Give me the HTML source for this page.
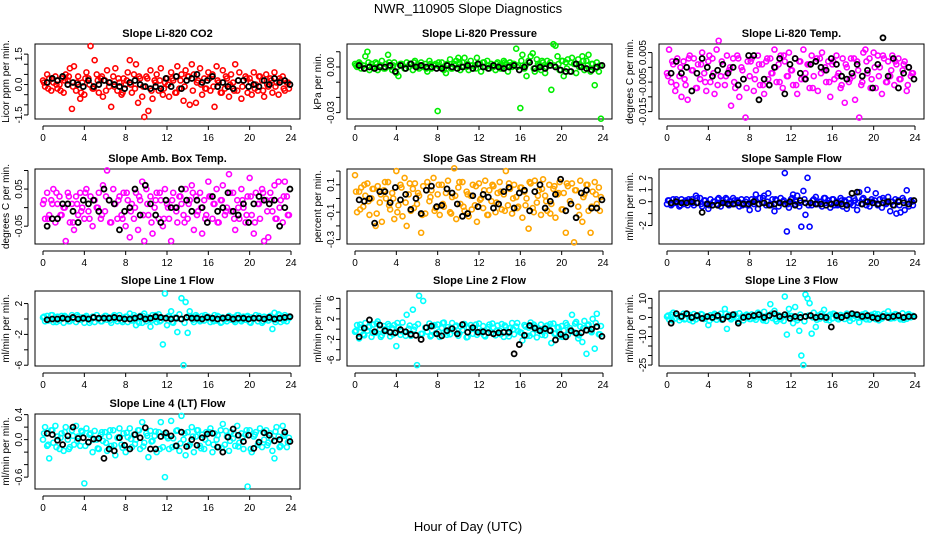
<!DOCTYPE html>
<html><head><meta charset="utf-8"><style>
html,body{margin:0;padding:0;background:#fff}
svg{display:block;font-family:"Liberation Sans",Arial,sans-serif}
</style></head><body>
<svg id="chart" width="936" height="540" viewBox="0 0 936 540" xmlns="http://www.w3.org/2000/svg">
<rect width="936" height="540" fill="#fff"/>
<text x="468" y="13" text-anchor="middle" font-size="13">NWR_110905  Slope Diagnostics</text>
<text x="468" y="531" text-anchor="middle" font-size="13">Hour of Day (UTC)</text>
</svg>
<script>
const colorHours=[0,0.2,0.4,0.6,0.8,1,1.2,1.4,1.6,1.8,2,2.2,2.4,2.6,2.8,3,3.2,3.4,3.6,3.8,4,4.2,4.4,4.6,4.8,5,5.2,5.4,5.6,5.8,6,6.2,6.4,6.6,6.8,7,7.2,7.4,7.6,7.8,8,8.2,8.4,8.6,8.8,9,9.2,9.4,9.6,9.8,10,10.2,10.4,10.6,10.8,11,11.2,11.4,11.6,11.8,12,12.2,12.4,12.6,12.8,13,13.2,13.4,13.6,13.8,14,14.2,14.4,14.6,14.8,15,15.2,15.4,15.6,15.8,16,16.2,16.4,16.6,16.8,17,17.2,17.4,17.6,17.8,18,18.2,18.4,18.6,18.8,19,19.2,19.4,19.6,19.8,20,20.2,20.4,20.6,20.8,21,21.2,21.4,21.6,21.8,22,22.2,22.4,22.6,22.8,23,23.2,23.4,23.6,23.8];
const coreHours=[0.1,0.5,0.9,1.3,1.7,2.1,2.5,2.9,3.3,3.7,4.1,4.5,4.9,5.3,5.7,6.1,6.5,6.9,7.3,7.7,8.1,8.5,8.9,9.3,9.7,10.1,10.5,10.9,11.3,11.7,12.1,12.5,12.9,13.3,13.7,14.1,14.5,14.9,15.3,15.7,16.1,16.5,16.9,17.3,17.7,18.1,18.5,18.9,19.3,19.7,20.1,20.5,20.9,21.3,21.7,22.1,22.5,22.9,23.3,23.7];
const blackHours=[0.4,0.9,1.4,1.9,2.4,2.9,3.4,3.9,4.4,4.9,5.4,5.9,6.4,6.9,7.4,7.9,8.4,8.9,9.4,9.9,10.4,10.9,11.4,11.9,12.4,12.9,13.4,13.9,14.4,14.9,15.4,15.9,16.4,16.9,17.4,17.9,18.4,18.9,19.4,19.9,20.4,20.9,21.4,21.9,22.4,22.9,23.4,23.9];
const xTicks=[0,4,8,12,16,20,24];

const co2Vals=[0.2,-0.1,0.5,0.3,-0.3,0.1,0.4,-0.2,0.0,0.3,-0.4,0.5,0.2,0.8,-1.2,0.9,-0.3,0.4,-0.7,0.1,-0.5,0.6,0.3,1.9,-0.2,1.2,0.5,-0.4,0.3,-0.6,0.2,0.7,-0.1,-1.1,0.4,0.8,-0.3,0.1,-0.5,0.3,0.0,0.6,1.2,-0.4,0.5,1.0,-0.9,0.3,-0.6,-1.6,0.4,-1.3,0.7,-0.7,0.2,0.5,-0.3,0.8,-0.5,0.1,0.3,-0.6,0.6,0.2,-0.4,0.9,-0.2,0.5,-0.8,0.7,0.4,-1.0,1.0,0.5,-0.9,0.2,0.8,-0.5,0.3,-0.2,0.6,-0.3,0.5,-1.1,0.9,0.1,-0.4,0.7,-0.2,0.3,-0.6,0.5,0.1,1.0,-0.3,0.6,-0.7,0.2,0.4,-0.4,0.3,-0.5,0.6,0.0,-0.3,0.4,0.2,-0.6,0.5,-0.1,0.3,-0.4,0.6,0.1,-0.5,0.2,0.4,-0.3,0.1,-0.2];
const co2Core=[0.1,-0.2,0.3,0.0,-0.3,0.2,0.4,-0.1,0.1,-0.4,0.3,0.0,-0.2,0.2,0.4,-0.3,0.1,-0.1,0.3,-0.4,0.2,0.0,-0.2,0.4,-0.1,0.3,-0.3,0.1,0.2,-0.2,0.0,0.3,-0.4,0.2,-0.1,0.4,-0.3,0.1,0.0,-0.2,0.3,-0.1,0.2,-0.4,0.4,0.0,-0.3,0.2,-0.1,0.3,0.1,-0.2,0.4,-0.3,0.0,0.2,-0.1,0.3,-0.2,0.1];
const co2Black=[0.1,0.3,0.2,0.4,0.0,0.1,0.0,-0.1,0.2,-0.1,0.0,0.2,0.1,0.0,-0.1,-0.2,0.1,0.2,0.0,-0.1,-0.2,-0.1,-0.2,0.3,-0.1,0.4,-0.2,0.2,0.3,0.5,0.1,0.2,0.4,-0.1,0.1,-0.1,-0.2,0.2,0.2,-0.1,0.0,-0.1,0.2,0.0,0.3,0.1,0.2,0.0];
const presVals=[0.002,0.000,0.003,-0.001,0.001,0.007,0.010,-0.002,0.002,0.000,0.003,-0.002,0.001,0.004,-0.001,0.002,0.008,0.000,-0.002,0.003,-0.004,-0.006,0.002,0.001,-0.001,0.003,0.000,0.002,-0.002,0.004,0.001,-0.001,0.003,0.000,0.002,-0.003,0.004,-0.001,0.001,0.002,-0.029,0.000,0.003,-0.002,-0.004,0.001,0.005,-0.001,0.002,0.004,0.006,-0.002,0.003,0.006,0.000,-0.002,0.004,-0.001,0.001,0.006,0.002,-0.003,0.003,0.000,0.004,-0.001,0.002,0.000,-0.002,0.003,0.001,-0.001,0.004,0.002,-0.003,0.003,0.000,0.002,0.012,0.001,-0.027,0.008,-0.001,-0.006,0.004,0.007,0.009,-0.003,0.005,0.001,-0.002,0.003,-0.004,0.004,0.001,-0.015,0.015,0.014,0.007,-0.002,0.004,-0.006,0.003,0.005,-0.003,0.006,0.002,-0.004,0.005,0.001,0.007,-0.002,0.004,0.008,-0.003,0.002,-0.012,0.003,-0.003,-0.034];
const presCore=[0.001,0.002,-0.001,0.003,0.000,0.002,0.001,-0.001,0.003,0.001,0.000,0.002,-0.001,0.002,0.003,0.000,0.001,-0.001,0.002,0.001,0.003,0.000,0.002,-0.001,0.001,0.003,0.000,0.002,0.001,-0.001,0.002,0.003,0.001,0.000,0.002,-0.001,0.003,0.001,0.002,0.000,0.004,0.001,0.003,-0.001,0.002,0.004,0.000,0.003,0.001,0.002,0.004,-0.001,0.003,0.002,0.000,0.004,0.001,0.002,-0.001,0.001];
const presBlack=[0.001,-0.001,0.000,-0.001,0.000,0.000,0.001,-0.003,0.001,-0.001,0.002,0.000,0.001,0.000,0.000,-0.001,-0.001,0.001,0.000,-0.001,0.000,0.001,-0.001,0.002,0.000,-0.001,0.001,0.000,-0.001,0.000,0.001,-0.002,0.000,0.003,-0.001,0.000,-0.001,0.001,0.000,-0.002,-0.003,-0.003,0.002,0.000,-0.001,-0.002,0.000,0.001];
const tempVals=[-0.002,0.006,-0.005,0.001,-0.008,0.003,-0.003,-0.010,0.002,-0.006,-0.011,0.004,-0.001,0.003,-0.007,0.001,-0.004,0.005,-0.002,-0.008,0.002,-0.005,0.003,-0.009,0.006,0.009,-0.003,0.001,-0.006,0.004,-0.001,-0.013,0.003,-0.007,0.004,-0.010,0.000,-0.004,-0.017,0.002,-0.003,0.003,-0.008,-0.001,0.004,-0.006,0.001,-0.009,0.002,-0.004,0.003,-0.002,0.006,-0.005,0.001,0.004,-0.007,0.002,-0.003,0.005,-0.001,-0.006,0.003,-0.009,0.002,-0.004,0.006,-0.002,0.001,-0.007,0.004,-0.003,0.002,-0.008,0.003,0.005,-0.001,-0.005,0.002,-0.010,0.001,-0.004,0.004,-0.002,-0.007,0.003,-0.012,0.000,-0.005,0.003,-0.003,-0.011,0.002,-0.017,-0.006,0.005,0.006,-0.002,0.003,-0.004,0.005,-0.007,0.004,0.000,-0.009,0.003,-0.005,0.002,-0.003,0.004,-0.006,0.001,0.003,-0.004,-0.001,0.002,-0.008,0.000,-0.003,-0.002];
const tempCore=[-0.003,0.002,-0.006,0.000,-0.004,0.003,-0.001,-0.007,0.001,-0.005,0.004,-0.002,-0.006,0.002,-0.003,0.000,-0.005,0.003,-0.001,-0.007,0.002,-0.004,0.001,-0.006,0.003,-0.002,0.000,-0.005,0.004,-0.003,-0.001,-0.006,0.002,-0.004,0.001,-0.007,0.003,-0.002,0.000,-0.005,0.002,-0.003,-0.006,0.001,-0.004,0.003,-0.001,-0.005,0.002,-0.007,0.000,-0.003,0.004,-0.005,-0.001,0.002,-0.004,0.001,-0.006,-0.002];
const tempBlack=[-0.002,0.002,-0.002,0.000,-0.008,-0.002,0.003,0.000,-0.003,-0.001,0.001,-0.002,0.000,-0.006,-0.004,0.004,0.004,-0.011,-0.004,-0.006,0.000,0.003,-0.009,0.001,0.003,-0.002,-0.004,0.001,0.002,0.000,-0.001,0.003,0.001,-0.003,-0.004,-0.002,0.001,-0.003,-0.001,-0.007,0.001,0.010,-0.003,0.003,-0.007,-0.002,0.000,-0.004];
const ambVals=[0.01,-0.03,0.04,-0.02,0.02,0.05,-0.04,0.01,0.03,-0.02,0.00,-0.09,0.04,-0.04,0.01,-0.06,0.03,-0.02,0.04,0.00,-0.03,0.05,-0.01,0.03,-0.05,0.02,0.00,0.04,-0.03,0.06,-0.01,0.10,0.02,-0.04,0.05,0.01,-0.03,0.03,-0.02,0.04,-0.05,0.02,-0.08,0.01,-0.03,0.04,-0.06,0.02,0.07,-0.09,0.05,-0.02,0.03,-0.07,0.00,0.04,-0.03,0.02,-0.05,0.05,0.01,-0.03,-0.09,0.04,0.00,-0.04,0.03,0.01,-0.02,0.05,-0.03,0.02,0.06,-0.06,0.03,-0.01,0.04,-0.07,0.02,-0.02,0.07,0.03,-0.03,0.01,0.05,-0.04,0.02,0.06,-0.02,0.00,0.09,-0.01,0.04,-0.06,0.02,-0.03,0.05,0.00,-0.04,0.03,0.08,-0.02,-0.07,0.04,0.01,-0.03,0.05,-0.09,0.02,-0.08,0.04,-0.01,0.06,-0.03,0.07,0.02,-0.04,0.07,0.03,-0.02];
const ambCore=[0.02,-0.03,0.01,0.04,-0.02,0.00,0.03,-0.04,0.01,-0.01,0.04,-0.03,0.02,0.00,-0.02,0.03,-0.04,0.01,0.02,-0.03,0.04,-0.01,0.00,0.03,-0.02,0.01,-0.04,0.02,0.04,-0.03,0.00,0.02,-0.01,0.03,-0.04,0.01,0.04,-0.02,0.00,-0.03,0.03,0.01,-0.04,0.02,-0.01,0.04,-0.03,0.00,0.02,-0.02,0.03,-0.04,0.01,0.04,-0.01,0.02,-0.03,0.00,0.03,-0.02];
const ambBlack=[-0.05,-0.03,-0.03,0.01,0.01,-0.01,-0.04,0.02,0.01,0.02,-0.01,0.05,0.02,0.01,-0.06,-0.01,0.00,0.05,-0.02,0.06,0.01,-0.02,-0.04,0.02,0.00,0.00,0.05,0.02,-0.01,0.02,0.00,-0.04,0.03,-0.01,0.00,0.04,-0.01,-0.02,0.01,-0.04,0.01,0.03,0.02,0.01,0.02,-0.05,0.00,0.05];
const rhVals=[0.17,-0.10,0.05,0.08,-0.06,0.02,0.11,-0.12,0.00,0.07,-0.20,0.09,-0.03,-0.17,0.06,0.00,0.12,-0.08,0.04,-0.15,0.20,-0.05,0.10,-0.13,0.15,-0.20,0.03,-0.09,0.07,0.11,-0.04,0.02,-0.25,0.09,-0.11,0.12,-0.02,0.06,0.15,-0.07,0.03,-0.12,0.10,-0.06,0.04,0.13,-0.10,0.01,0.22,-0.15,0.08,-0.04,0.12,-0.09,0.05,-0.13,0.02,0.10,-0.05,-0.17,0.11,0.00,-0.07,0.13,-0.12,0.06,-0.02,0.09,-0.10,0.04,0.12,-0.08,0.03,0.20,-0.05,0.07,-0.11,0.10,0.01,-0.06,0.08,-0.14,0.05,0.00,-0.22,0.11,-0.07,0.13,-0.03,0.06,-0.12,0.14,0.02,-0.09,0.10,-0.04,0.07,-0.14,0.03,0.12,-0.08,0.04,-0.25,0.09,-0.02,0.11,-0.32,0.06,-0.06,0.13,-0.17,0.03,0.10,-0.09,-0.25,0.05,0.12,-0.04,0.08,0.01];
const rhCore=[0.05,-0.08,0.10,-0.02,0.07,-0.11,0.03,0.12,-0.05,0.00,-0.10,0.08,-0.03,0.11,-0.07,0.04,-0.12,0.06,0.01,-0.09,0.10,-0.04,0.07,-0.11,0.02,0.12,-0.06,0.03,-0.08,0.09,-0.01,0.06,-0.12,0.10,-0.03,0.05,-0.09,0.11,0.00,-0.07,0.08,-0.05,0.12,-0.10,0.02,0.07,-0.02,-0.11,0.09,0.04,-0.08,0.11,-0.04,0.06,-0.12,0.01,0.10,-0.06,0.03,-0.09];
const rhBlack=[-0.01,-0.02,0.00,-0.18,0.05,0.05,-0.03,0.08,-0.01,0.03,-0.08,0.00,-0.11,0.06,0.09,-0.06,-0.05,0.07,0.04,-0.04,-0.13,-0.11,0.02,-0.06,0.03,0.01,-0.07,-0.04,0.05,0.08,-0.07,0.04,0.06,-0.09,0.05,0.10,-0.07,-0.02,0.03,0.14,-0.09,-0.04,-0.14,0.04,0.06,-0.07,-0.07,-0.01];
const sampleVals=[-0.2,0.1,-0.3,0.2,-0.1,0.0,-0.4,0.2,-0.2,0.1,-0.3,0.0,0.2,-0.3,0.5,-0.1,0.3,-0.4,0.1,-0.2,-0.6,0.2,-0.3,0.0,-0.2,0.3,-0.4,0.1,-0.1,0.2,-0.3,0.0,0.3,-0.2,0.1,-0.4,0.2,-0.1,0.0,-0.3,-0.7,0.2,-0.2,0.6,-0.6,0.3,-0.1,0.5,-0.3,0.7,-0.2,0.2,-0.8,0.1,-0.4,0.3,0.0,2.4,-2.5,-0.5,0.2,0.6,-0.2,0.5,-0.4,-2.1,0.9,-1.1,2.0,-2.1,-0.3,0.2,0.4,-0.2,0.0,-0.4,0.3,-0.1,0.1,-0.5,0.2,-0.3,0.0,-0.2,0.3,-0.4,0.1,-0.6,0.2,-0.1,-0.3,0.1,-0.7,0.8,-0.2,0.3,0.0,1.0,-0.4,0.2,-0.1,0.7,-0.3,0.2,-0.5,0.1,-0.2,0.4,-0.8,0.0,-0.3,-1.0,0.1,-0.9,0.3,-0.7,0.95,-0.4,0.1,-0.3];
const sampleCore=[0.1,-0.2,0.2,-0.3,0.0,0.2,-0.1,0.3,-0.2,0.1,-0.3,0.0,0.2,-0.1,0.3,-0.2,0.1,0.0,-0.3,0.2,-0.1,0.1,-0.2,0.3,0.0,-0.3,0.2,-0.1,0.1,-0.2,0.3,0.0,-0.1,0.2,-0.3,0.1,-0.2,0.0,0.3,-0.1,0.2,-0.3,0.1,0.0,-0.2,0.3,-0.1,0.2,-0.3,0.0,0.1,-0.2,0.3,-0.1,0.0,0.2,-0.3,0.1,-0.2,0.0];
const sampleBlack=[-0.1,0.0,-0.1,-0.1,0.0,-0.1,-0.9,-0.2,-0.3,-0.3,-0.1,-0.2,-0.2,-0.1,-0.2,-0.2,0.0,-0.2,-0.1,-0.3,-0.2,-0.1,-0.2,0.0,-0.3,0.1,-0.1,-0.1,-0.2,-0.2,-0.3,-0.2,-0.1,-0.2,-0.3,0.7,0.8,-0.2,0.0,-0.1,-0.2,-0.1,0.0,-0.3,0.0,-0.1,-0.2,0.1];
const line1Vals=[0.2,-0.3,0.4,-0.1,0.5,-0.4,0.1,0.3,-0.2,0.4,-0.5,0.2,0.0,-0.3,0.5,0.1,-0.4,0.3,-0.1,0.2,-0.5,0.4,0.0,-0.2,0.3,-0.4,0.5,0.1,-0.3,0.2,0.4,-0.1,0.2,-0.5,0.3,0.0,-0.3,0.5,-0.2,0.1,0.3,-0.4,0.7,-0.2,0.5,-0.8,0.1,0.4,-0.5,0.7,-0.3,0.2,-1.0,0.5,0.0,-0.4,0.6,-0.2,-3.3,3.3,-0.8,0.4,1.0,-0.5,0.2,-1.7,0.6,2.7,-6.0,2.2,-1.8,1.0,0.3,-0.4,0.5,0.0,-0.3,0.4,-0.2,0.2,0.3,-0.4,0.1,0.5,-0.2,0.3,-0.5,0.2,0.0,-0.3,0.4,-0.1,0.2,-0.4,0.5,0.0,-0.3,0.3,-0.1,0.4,-0.4,0.2,0.0,0.5,-0.3,0.1,-0.5,0.3,0.0,-0.2,0.4,-1.3,0.8,-0.1,0.6,-0.4,0.2,0.5,-0.3,0.1];
const line1Core=[0.3,-0.2,0.5,-0.4,0.1,0.4,-0.3,0.0,0.5,-0.1,0.2,-0.5,0.3,0.0,-0.3,0.4,-0.2,0.5,0.1,-0.4,0.3,-0.1,0.2,-0.5,0.4,0.0,-0.2,0.5,-0.3,0.1,0.3,-0.4,0.2,0.0,-0.5,0.4,-0.1,0.3,-0.2,0.5,0.1,-0.3,0.4,-0.4,0.0,0.2,-0.2,0.5,-0.1,0.3,-0.5,0.1,0.4,-0.3,0.2,0.0,-0.4,0.5,-0.2,0.3];
const line1Black=[-0.1,0.0,0.0,0.1,0.0,0.2,0.0,0.1,0.0,0.2,0.1,0.1,0.1,0.2,0.1,0.0,0.0,0.1,0.3,0.0,0.1,0.3,0.2,0.1,0.0,0.1,0.0,0.2,0.1,0.1,0.0,0.2,0.1,0.0,0.1,0.2,0.0,0.1,0.1,0.0,0.1,0.1,0.0,0.2,0.0,0.1,0.2,0.3];
const line2Vals=[-0.5,0.8,-1.8,0.3,-1.0,1.2,-0.3,0.5,-1.5,0.9,-0.7,1.5,0.0,-1.2,0.6,-0.4,1.0,-1.4,0.2,0.8,-3.3,0.4,-1.1,1.3,-0.6,2.8,0.1,-1.3,3.8,0.5,-7.0,6.5,-0.9,5.5,0.3,-0.5,1.1,-1.2,0.6,-0.8,0.9,-1.5,0.2,1.3,-0.6,0.4,-1.0,1.2,-0.3,0.7,-1.3,0.5,-0.2,1.0,-1.6,0.3,0.8,-0.9,0.2,-1.1,1.1,-0.4,0.6,-1.4,0.0,0.9,-0.7,0.3,-1.2,0.7,-0.3,1.0,-1.5,0.4,-0.8,0.2,1.2,-1.0,0.5,-0.4,-0.6,-2.2,0.8,-1.3,0.3,1.3,-0.9,0.5,-1.6,0.1,0.9,-0.5,-1.2,0.7,-0.2,-2.7,1.1,-0.8,0.4,-1.4,0.6,-0.3,1.2,-1.1,0.2,2.8,-0.6,1.4,-1.8,0.5,-2.5,1.6,-4.8,0.9,-0.4,2.0,-3.8,3.0,-1.0,0.6];
const line2Core=[-0.3,0.9,-1.2,0.4,-0.7,1.1,-1.5,0.0,0.6,-1.0,1.2,-0.4,-1.3,0.7,-0.1,1.0,-0.9,0.3,-1.4,0.8,-0.5,1.2,-1.1,0.2,0.5,-0.8,1.0,-1.5,0.1,0.9,-0.6,-1.2,0.4,1.1,-0.3,-1.0,0.7,-1.4,0.0,1.2,-0.7,0.5,-1.3,0.9,-0.2,-1.1,0.6,1.0,-0.9,0.3,-1.5,0.8,-0.4,1.1,-1.2,0.2,0.7,-0.6,1.2,-1.0];
const line2Black=[-1.5,0.2,1.8,-0.5,0.8,-0.3,-0.6,-0.7,-0.1,-0.5,-1.0,-1.2,-2.0,0.3,0.6,-0.9,-1.3,-0.3,0.1,-0.9,0.9,-0.6,0.3,-0.6,-0.5,-0.7,-0.9,-0.7,-0.6,-0.6,-4.8,-3.0,-1.2,0.7,0.2,-0.3,0.1,-0.3,-2.1,-1.0,-1.5,-0.3,-0.8,-0.7,-0.2,0.0,0.5,-1.4];
const line3Vals=[0.5,-1.0,1.5,2.5,-0.5,1.0,-1.5,0.8,2.0,-0.7,1.2,-1.3,0.3,1.8,-1.0,0.6,-0.2,1.5,-0.8,0.4,-4.0,1.2,-0.5,1.9,-1.2,0.7,2.0,-0.4,4.5,-6.0,1.3,-1.0,0.3,1.7,-0.6,2.2,0.0,-1.5,1.0,0.5,-0.8,1.6,0.2,-1.2,2.5,0.4,-0.5,3.0,-1.8,0.9,7.0,-0.3,3.5,-2.0,1.2,-0.9,0.5,11.0,-9.0,4.5,0.8,-3.0,5.5,-1.5,-7.0,-20.0,-25.0,12.0,10.0,7.5,-8.5,2.5,-5.0,1.0,-0.6,2.0,4.0,-1.2,0.7,1.5,-0.5,1.8,0.2,-1.0,1.3,0.5,-0.8,2.0,0.0,1.2,-0.7,1.6,0.3,-2.5,1.0,-0.3,2.1,0.6,-1.1,1.4,0.2,-0.9,1.7,0.4,-0.6,1.9,0.8,3.2,-0.5,1.1,-0.3,1.5,0.6,-1.0,2.2,0.3,-0.7,1.8,0.1,0.9];
const line3Core=[1.0,-1.5,2.0,0.0,-1.0,1.5,-2.0,0.5,1.8,-0.5,-1.8,1.2,0.3,-1.2,2.0,-0.3,1.0,-2.0,0.8,1.5,-0.8,0.0,1.8,-1.5,0.5,2.0,-1.0,0.2,-1.8,1.2,0.7,-0.5,1.5,-2.0,1.0,0.0,-1.2,1.8,0.3,-1.5,2.0,-0.7,0.5,1.2,-1.8,1.0,-0.2,1.5,-1.0,0.8,2.0,-1.5,0.3,1.0,-0.5,1.8,0.0,-1.2,1.5,0.5];
const line3Black=[-3.0,2.0,0.5,2.0,0.0,1.0,-0.5,0.5,0.0,1.0,-1.0,0.5,1.5,-3.0,0.0,0.5,1.0,1.5,0.0,1.0,2.0,0.5,1.5,-0.5,0.5,0.0,0.5,1.0,0.0,0.5,0.0,-5.0,1.0,0.0,1.0,2.0,1.5,0.5,1.0,0.0,-0.5,0.5,0.0,0.5,1.0,0.0,0.5,0.5];
const line4Vals=[0.00,0.20,-0.10,-0.30,0.15,-0.05,0.22,0.05,-0.15,0.10,-0.18,0.20,0.00,-0.12,0.15,-0.08,0.22,0.05,-0.10,0.12,-0.70,0.18,-0.05,0.10,-0.20,0.14,0.00,-0.15,0.08,-0.02,0.12,-0.18,0.05,-0.10,0.15,-0.25,0.03,0.18,-0.08,0.10,-0.20,0.04,0.18,-0.12,0.08,0.00,0.15,-0.15,0.28,-0.05,0.10,-0.28,0.14,-0.02,0.06,-0.20,0.12,0.28,-0.12,-0.60,0.05,-0.15,0.30,0.02,-0.10,0.15,-0.18,0.38,0.00,-0.25,0.12,-0.08,0.20,-0.20,0.05,0.15,-0.10,0.08,-0.15,0.12,-0.05,0.18,-0.20,0.10,0.00,-0.12,0.15,0.25,-0.08,0.05,-0.18,0.12,0.02,-0.10,0.22,-0.05,0.10,-0.15,0.08,-0.75,0.15,-0.20,0.05,0.12,-0.08,0.18,-0.12,0.00,0.15,-0.05,0.10,-0.18,-0.30,0.20,0.05,-0.10,0.22,0.08,-0.12,0.03];
const line4Core=[0.10,-0.08,0.15,-0.12,0.03,0.12,-0.15,0.06,-0.02,0.14,-0.10,0.08,0.00,-0.14,0.12,-0.05,0.15,-0.09,0.04,-0.13,0.11,0.01,-0.07,0.15,-0.11,0.06,-0.03,0.13,-0.15,0.09,0.02,-0.12,0.14,-0.06,0.10,-0.10,0.05,0.15,-0.14,0.00,0.12,-0.08,0.07,-0.13,0.14,-0.02,0.09,-0.11,0.03,0.15,-0.15,0.08,-0.05,0.12,-0.09,0.01,0.13,-0.12,0.06,-0.04];
const line4Black=[0.10,0.08,-0.01,-0.08,0.06,0.20,0.02,0.03,-0.04,0.01,0.02,-0.30,-0.15,-0.18,0.03,-0.09,-0.15,0.08,0.03,0.19,-0.15,-0.15,0.05,0.11,0.06,-0.10,0.12,-0.11,0.00,-0.09,0.03,0.09,0.10,-0.12,-0.20,0.04,0.17,0.07,-0.03,0.07,-0.14,-0.04,0.11,0.07,-0.02,0.00,0.12,-0.03];

const co2Ticks=[-1.5,-1,-0.5,0,0.5,1,1.5], co2Labels=["-1.5","","","0.0","","","1.5"];
const presTicks=[-0.03,-0.02,-0.01,0,0.01], presLabels=["-0.03","","","0.00",""];
const tempTicks=[-0.015,-0.01,-0.005,0,0.005], tempLabels=["-0.015","","-0.005","","0.005"];
const ambTicks=[-0.05,0,0.05,0.1], ambLabels=["-0.05","","0.05",""];
const rhTicks=[-0.3,-0.2,-0.1,0,0.1,0.2], rhLabels=["-0.3","","-0.1","","0.1",""];
const sampleTicks=[-2,-1,0,1,2], sampleLabels=["-2","","0","1","2"];
const line1Ticks=[-6,-4,-2,0,2], line1Labels=["-6","","-2","","2"];
const line2Ticks=[-6,-4,-2,0,2,4,6], line2Labels=["-6","","-2","","2","","6"];
const line3Ticks=[-25,-20,-15,-10,-5,0,5,10], line3Labels=["-25","","","-10","","0","","10"];
const line4Ticks=[-0.6,-0.4,-0.2,0,0.2,0.4], line4Labels=["-0.6","","","0.0","","0.4"];

const svg=document.getElementById('chart');
const NS='http://www.w3.org/2000/svg';
function mk(tag,attrs,parent){const e=document.createElementNS(NS,tag);for(const k in attrs)e.setAttribute(k,attrs[k]);(parent||svg).appendChild(e);return e;}

const colLeft=[35,347,659], rowTop=[44,169,291,414], W=265, H=75;
const panels=[
 {id:'co2',title:'Slope Li-820 CO2',yl:'Licor ppm per min.',color:'#ff0000',lim:[-1.70,2.0],vals:co2Vals,core:co2Core,blk:co2Black,ticks:co2Ticks,labels:co2Labels,r:0,c:0},
 {id:'pressure',title:'Slope Li-820 Pressure',yl:'kPa per min.',color:'#00ee00',lim:[-0.0342,0.0151],vals:presVals,core:presCore,blk:presBlack,ticks:presTicks,labels:presLabels,r:0,c:1},
 {id:'temp',title:'Slope Li-820 Temp.',yl:'degrees C per min.',color:'#ff00ff',lim:[-0.0175,0.0079],vals:tempVals,core:tempCore,blk:tempBlack,ticks:tempTicks,labels:tempLabels,r:0,c:2},
 {id:'amb-box-temp',title:'Slope Amb. Box Temp.',yl:'degrees C per min.',color:'#ff00ff',lim:[-0.098,0.104],vals:ambVals,core:ambCore,blk:ambBlack,ticks:ambTicks,labels:ambLabels,r:1,c:0},
 {id:'gas-rh',title:'Slope Gas Stream RH',yl:'percent per min.',color:'#ffa500',lim:[-0.332,0.215],vals:rhVals,core:rhCore,blk:rhBlack,ticks:rhTicks,labels:rhLabels,r:1,c:1},
 {id:'sample-flow',title:'Slope Sample Flow',yl:'ml/min per min.',color:'#0000ff',lim:[-3.55,2.74],vals:sampleVals,core:sampleCore,blk:sampleBlack,ticks:sampleTicks,labels:sampleLabels,r:1,c:2},
 {id:'line1-flow',title:'Slope Line 1 Flow',yl:'ml/min per min.',color:'#00ffff',lim:[-6.1,3.63],vals:line1Vals,core:line1Core,blk:line1Black,ticks:line1Ticks,labels:line1Labels,r:2,c:0},
 {id:'line2-flow',title:'Slope Line 2 Flow',yl:'ml/min per min.',color:'#00ffff',lim:[-7.17,7.43],vals:line2Vals,core:line2Core,blk:line2Black,ticks:line2Ticks,labels:line2Labels,r:2,c:1},
 {id:'line3-flow',title:'Slope Line 3 Flow',yl:'ml/min per min.',color:'#00ffff',lim:[-25.5,13.9],vals:line3Vals,core:line3Core,blk:line3Black,ticks:line3Ticks,labels:line3Labels,r:2,c:2},
 {id:'line4-flow',title:'Slope Line 4 (LT) Flow',yl:'ml/min per min.',color:'#00ffff',lim:[-0.79,0.41],vals:line4Vals,core:line4Core,blk:line4Black,ticks:line4Ticks,labels:line4Labels,r:3,c:0}
];

panels.forEach(p=>{
  const L=colLeft[p.c], T=rowTop[p.r];
  const xs=h=>L+8+h*(248/24);
  const ys=v=>T+H-(v-p.lim[0])/(p.lim[1]-p.lim[0])*H;
  const g=mk('g',{});
  
  
  const t=mk('text',{x:L+W/2,y:T-7,'text-anchor':'middle','font-size':'11','font-weight':'bold'},g);
  t.textContent=p.title;
  
  
  const yl=mk('text',{transform:`translate(${L-26},${T+H/2}) rotate(-90)`,'text-anchor':'middle','font-size':'10'},g);
  yl.textContent=p.yl;
  
  
  const xa=mk('g',{},g);
  
  
  mk('line',{x1:xs(0),x2:xs(24),y1:T+H+7,y2:T+H+7,stroke:'#000','stroke-width':1},xa);
  xTicks.forEach(h=>{
    mk('line',{x1:xs(h),x2:xs(h),y1:T+H+7,y2:T+H+11,stroke:'#000','stroke-width':1},xa);
    const tl=mk('text',{x:xs(h),y:T+H+22,'text-anchor':'middle','font-size':'10'},xa);
    tl.textContent=h;
    
    
  });
  const ya=mk('g',{},g);
  
  
  const tmin=Math.min(...p.ticks), tmax=Math.max(...p.ticks);
  mk('line',{x1:L-7,x2:L-7,y1:ys(tmin),y2:ys(tmax),stroke:'#000','stroke-width':1},ya);
  p.ticks.forEach((v,i)=>{
    mk('line',{x1:L-11,x2:L-7,y1:ys(v),y2:ys(v),stroke:'#000','stroke-width':1},ya);
    if(p.labels[i]){
      const tl=mk('text',{transform:`translate(${L-13},${ys(v)}) rotate(-90)`,'text-anchor':'middle','font-size':'10'},ya);
      tl.textContent=p.labels[i];
      
      
    }
  });
  const frame=mk('rect',{x:L,y:T,width:W,height:H,fill:'none',stroke:'#000','stroke-width':1},g);
  
  
  const sg=mk('g',{fill:'none',stroke:p.color,'stroke-width':1.6},g);
  
  
  p.vals.forEach((v,i)=>{
    const c=mk('circle',{cx:xs(colorHours[i]),cy:ys(v),r:2.5},sg);
    
    
  });
  p.core.forEach((v,i)=>{
    const c=mk('circle',{cx:xs(coreHours[i]),cy:ys(v),r:2.5},sg);
    
    
  });
  const bg=mk('g',{fill:'none',stroke:'#000','stroke-width':1.8},g);
  
  
  p.blk.forEach((v,i)=>{
    const c=mk('circle',{cx:xs(blackHours[i]),cy:ys(v),r:2.5},bg);
    
    
  });
});
</script>
</body></html>
